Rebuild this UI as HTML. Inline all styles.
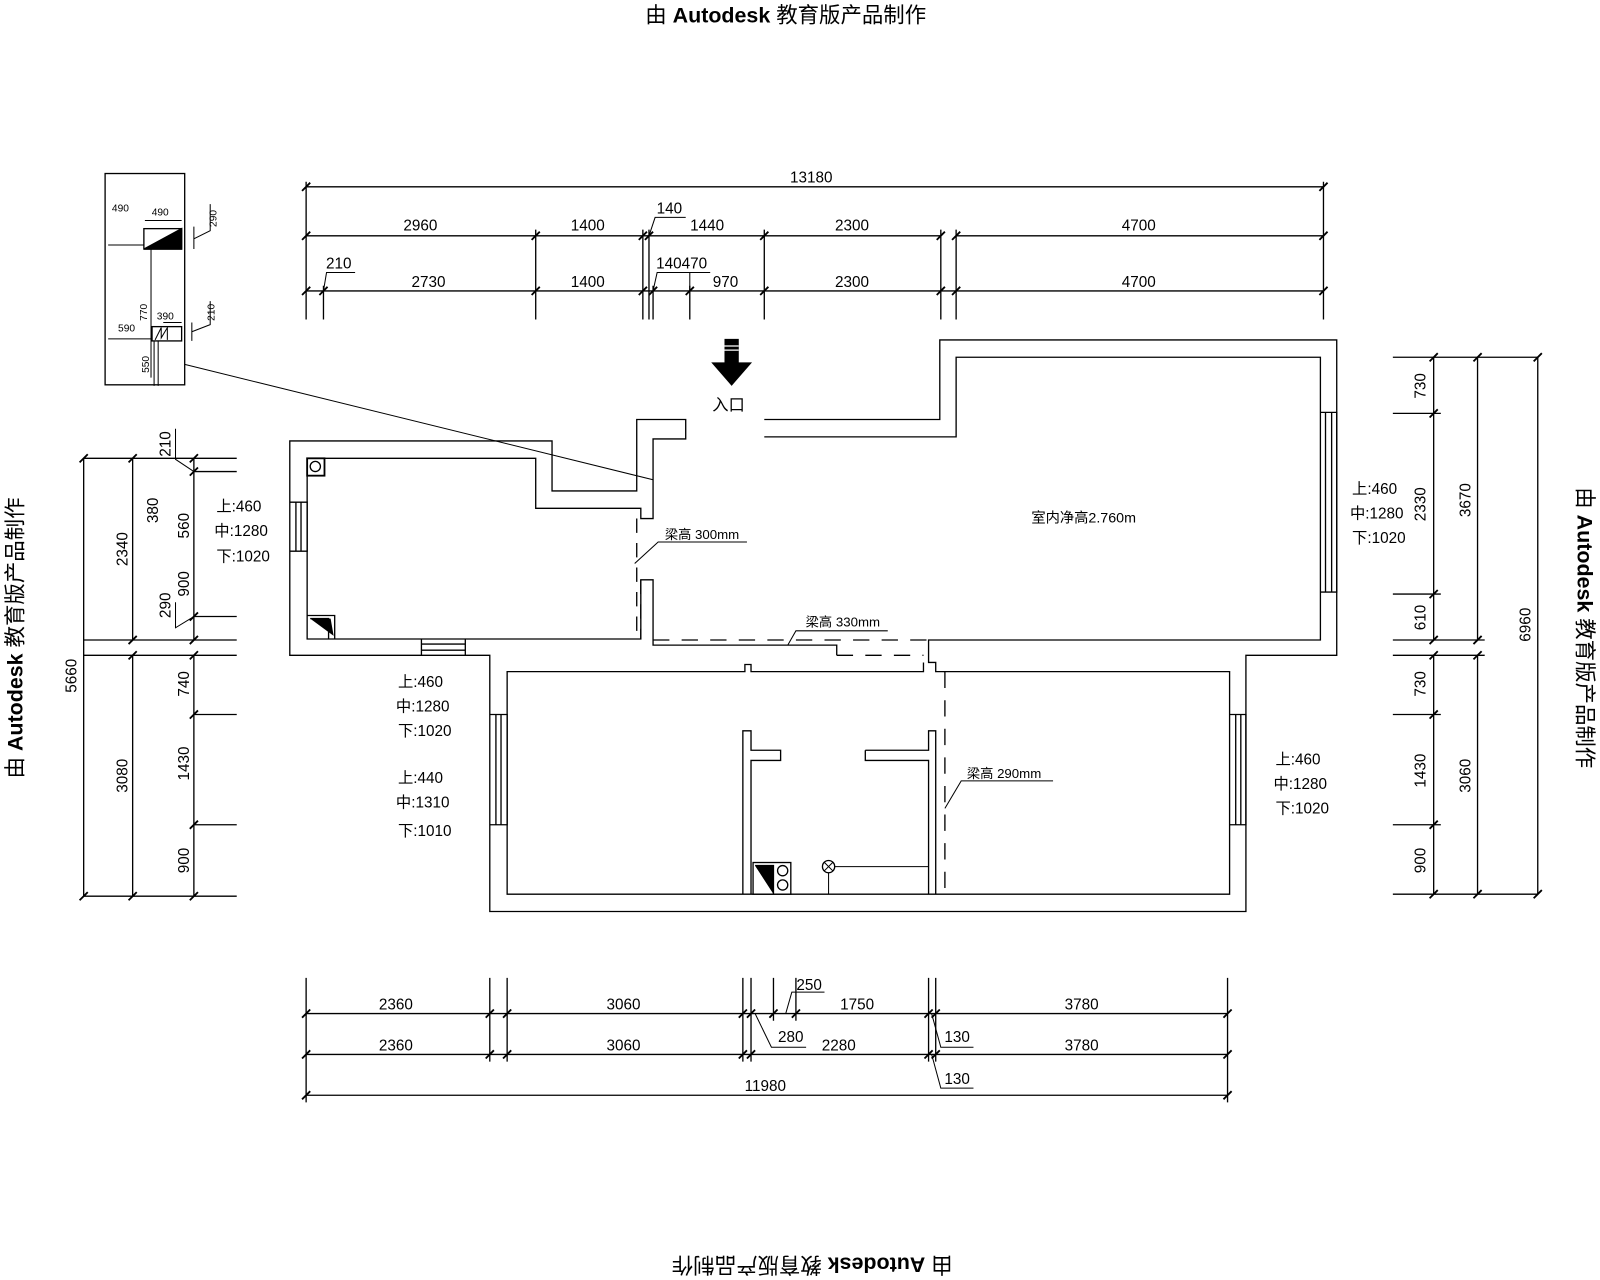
<!DOCTYPE html>
<html><head><meta charset="utf-8"><style>
html,body{margin:0;padding:0;background:#fff;}
svg{display:block}
text{font-family:"Liberation Sans","Noto Sans CJK SC",sans-serif;fill:#000}
.d{font-size:15px;font-family:"Liberation Sans Narrow","Liberation Sans","Noto Sans CJK SC",sans-serif}
</style></head><body>
<svg width="1600" height="1280" viewBox="0 0 1568 1254" preserveAspectRatio="none" xmlns="http://www.w3.org/2000/svg">
<g fill="none" stroke="#000" stroke-width="1.3">
<!-- watermark text handled below -->
<!-- TOP DIMENSIONS -->
<path d="M300,183H1297 M300,231H922 M937,231H1297 M300,285H1297"/>
<path d="M300,178V313 M1297,178V313 M525,225V313 M630,225V313 M636,225V313 M749,225V313 M922,225V313 M937,225V313 M317,280V313 M640,280V313 M676,280V313"/>
<path d="M296,187l8,-8 M1293,187l8,-8 M296,235l8,-8 M521,235l8,-8 M626,235l8,-8 M632,235l8,-8 M745,235l8,-8 M918,235l8,-8 M933,235l8,-8 M1293,235l8,-8 M296,289l8,-8 M313,289l8,-8 M521,289l8,-8 M626,289l8,-8 M636,289l8,-8 M672,289l8,-8 M745,289l8,-8 M918,289l8,-8 M933,289l8,-8 M1293,289l8,-8" stroke-width="1.8"/>
<path d="M636,231L642,213H672 M317,285L320,267H348 M640,285L644,267H696 M676,285V267" stroke-width="1"/>

<!-- INSET -->
<rect x="103" y="170" width="78" height="207"/>
<path d="M181,357L640,470" stroke-width="1"/>
<rect x="141" y="224" width="37" height="20"/>
<path d="M141,244L178,224V244Z" fill="#000"/>
<path d="M148,244V370 M106,240H141 M142,216H178 M190,222V244 M190,234L206,226V200" stroke-width="1"/>
<rect x="149" y="320" width="29" height="14"/>
<path d="M152,333l6,-12v10l6,-10v12 M106,332H149 M151,334V378 M155,334V378 M160,316H178 M188,316V334 M188,325L206,318V295" stroke-width="1"/>

<!-- WALLS -->
<path d="M749,411H921V333H1310V642H1221V893H480V642H284V432H541V481H624V411H672V430H640V508H628V498H525V449H301V626H628V568H640V632H820V642"/>
<path d="M749,428H937V350H1294V627H910V649H917V658H1205V876H497V658H730V651H736V658H905V649"/>
<path d="M624,508V626 M628,568V626" stroke-dasharray="14,10"/>
<path d="M640,627H910" stroke-dasharray="16,12"/>
<path d="M820,642H905" stroke-dasharray="16,12"/>
<path d="M926,658V876" stroke-dasharray="16,12"/>
<!-- windows -->
<path d="M284,492H301V540H284 M290,492V540 M295,492V540"/>
<path d="M413,626V642 M456,626V642 M413,631H456 M413,637H456"/>
<path d="M480,700H497V808H480 M486,700V808 M491,700V808"/>
<path d="M1205,700H1221V808H1205 M1211,700V808 M1216,700V808"/>
<path d="M1294,404H1310V580H1294 M1299,404V580 M1305,404V580"/>
<!-- fixtures left room -->
<rect x="301" y="449" width="17" height="17" stroke-width="1.8"/>
<circle cx="309" cy="457" r="5"/>
<path d="M301,603H328V626 M304,606H322V626" />
<path d="M304,606H324L327,623Z" fill="#000" stroke="none"/>
<!-- kitchen -->
<path d="M728,876V716H736V735H765V745H736V876 M848,735V745H910V876 M848,735H910V716H917V876"/>
<rect x="738" y="845" width="37" height="31"/>
<path d="M740,848H758V876 M742,850L756,852L758,874Z" fill="#000"/>
<circle cx="767" cy="853" r="5"/><circle cx="767" cy="867" r="5"/>
<circle cx="812" cy="849" r="6"/>
<path d="M808,845l8,8 M816,845l-8,8 M818,849H910 M812,855V876" stroke-width="1"/>
<!-- leaders -->
<path d="M622,552L645,531H732 M772,632L780,618H870 M926,792L942,765H1032" stroke-width="1"/>

<!-- RIGHT DIMENSIONS -->
<path d="M1365,350H1507 M1365,405H1412 M1365,582H1412 M1365,627H1455 M1365,642H1455 M1365,700H1412 M1365,808H1412 M1365,876H1507"/>
<path d="M1405,350V627 M1448,350V627 M1507,350V876 M1405,642V876 M1448,642V876"/>
<path d="M1401,354l8,-8 M1401,409l8,-8 M1401,586l8,-8 M1401,631l8,-8 M1444,354l8,-8 M1444,631l8,-8 M1503,354l8,-8 M1503,880l8,-8 M1401,646l8,-8 M1401,704l8,-8 M1401,812l8,-8 M1401,880l8,-8 M1444,646l8,-8 M1444,880l8,-8" stroke-width="1.8"/>

<!-- LEFT DIMENSIONS -->
<path d="M82,449H232 M82,627H232 M82,642H232 M82,878H232 M190,462H232 M190,604H232 M190,700H232 M190,808H232"/>
<path d="M82,449V878 M130,449V627 M130,642V878 M190,449V627 M190,642V878"/>
<path d="M78,453l8,-8 M78,882l8,-8 M126,453l8,-8 M126,631l8,-8 M126,646l8,-8 M126,882l8,-8 M186,453l8,-8 M186,466l8,-8 M186,608l8,-8 M186,631l8,-8 M186,646l8,-8 M186,704l8,-8 M186,812l8,-8 M186,882l8,-8" stroke-width="1.8"/>
<path d="M190,462L172,450V420 M190,604L172,615V590" stroke-width="1"/>

<!-- BOTTOM DIMENSIONS -->
<path d="M300,993H1203 M300,1033H1203 M300,1073H1203"/>
<path d="M300,958V1080 M480,958V1040 M497,958V1040 M728,958V1040 M736,958V1040 M910,958V1040 M917,958V1040 M1203,958V1080 M758,958V1000 M780,958V1000"/>
<path d="M296,997l8,-8 M476,997l8,-8 M493,997l8,-8 M724,997l8,-8 M732,997l8,-8 M754,997l8,-8 M776,997l8,-8 M906,997l8,-8 M913,997l8,-8 M1199,997l8,-8 M296,1037l8,-8 M476,1037l8,-8 M493,1037l8,-8 M724,1037l8,-8 M732,1037l8,-8 M906,1037l8,-8 M913,1037l8,-8 M1199,1037l8,-8 M296,1077l8,-8 M1199,1077l8,-8" stroke-width="1.8"/>
<path d="M770,993L776,972H808 M740,993L756,1026H790 M913,993L922,1026H954 M913,1033L922,1066H954" stroke-width="1"/>
</g>

<!-- arrow -->
<path d="M710,332H724V355H737L717,378L697,355H710Z" fill="#000"/>
<path d="M710,339H724 M710,343H724" stroke="#fff" stroke-width="1.2"/>
<text x="714" y="402" font-size="16" text-anchor="middle">入口</text>

<!-- dimension text -->
<g class="d" text-anchor="middle" font-size="15">
<text x="795" y="179">13180</text>
<text x="412" y="226">2960</text><text x="576" y="226">1400</text><text x="656" y="209">140</text><text x="693" y="226">1440</text><text x="835" y="226">2300</text><text x="1116" y="226">4700</text>
<text x="332" y="263">210</text><text x="420" y="281">2730</text><text x="576" y="281">1400</text><text x="668" y="263">140470</text><text x="711" y="281">970</text><text x="835" y="281">2300</text><text x="1116" y="281">4700</text>
<text x="388" y="989">2360</text><text x="611" y="989">3060</text><text x="793" y="970">250</text><text x="840" y="989">1750</text><text x="1060" y="989">3780</text>
<text x="388" y="1029">2360</text><text x="611" y="1029">3060</text><text x="775" y="1021">280</text><text x="822" y="1029">2280</text><text x="938" y="1021">130</text><text x="1060" y="1029">3780</text>
<text x="750" y="1069">11980</text><text x="938" y="1062">130</text>
<text x="1062" y="512" font-size="14">室内净高2.760m</text>
<text x="688" y="528" font-size="13">梁高 300mm</text>
<text x="826" y="614" font-size="13">梁高 330mm</text>
<text x="984" y="762" font-size="13">梁高 290mm</text>
</g>
<g class="d" font-size="15" text-anchor="middle">
<text transform="translate(1397,378) rotate(-90)">730</text>
<text transform="translate(1397,494) rotate(-90)">2330</text>
<text transform="translate(1397,605) rotate(-90)">610</text>
<text transform="translate(1441,490) rotate(-90)">3670</text>
<text transform="translate(1500,612) rotate(-90)">6960</text>
<text transform="translate(1397,670) rotate(-90)">730</text>
<text transform="translate(1397,755) rotate(-90)">1430</text>
<text transform="translate(1397,843) rotate(-90)">900</text>
<text transform="translate(1441,760) rotate(-90)">3060</text>
<text transform="translate(75,662) rotate(-90)">5660</text>
<text transform="translate(125,538) rotate(-90)">2340</text>
<text transform="translate(125,760) rotate(-90)">3080</text>
<text transform="translate(167,435) rotate(-90)">210</text>
<text transform="translate(155,500) rotate(-90)">380</text>
<text transform="translate(185,515) rotate(-90)">560</text>
<text transform="translate(185,572) rotate(-90)">900</text>
<text transform="translate(167,593) rotate(-90)">290</text>
<text transform="translate(185,670) rotate(-90)">740</text>
<text transform="translate(185,748) rotate(-90)">1430</text>
<text transform="translate(185,843) rotate(-90)">900</text>
<text transform="translate(118,207) rotate(0)" font-size="10">490</text>
<text transform="translate(157,211)" font-size="10">490</text>
<text transform="translate(212,214) rotate(-90)" font-size="10">290</text>
<text transform="translate(124,325)" font-size="10">590</text>
<text transform="translate(162,313)" font-size="10">390</text>
<text transform="translate(144,306) rotate(-90)" font-size="10">770</text>
<text transform="translate(210,306) rotate(-90)" font-size="10">210</text>
<text transform="translate(146,357) rotate(-90)" font-size="10">550</text>
</g>
<g class="d" font-size="16">
<text x="212" y="501">上:460</text><text x="210" y="525">中:1280</text><text x="212" y="550">下:1020</text>
<text x="1325" y="484">上:460</text><text x="1323" y="508">中:1280</text><text x="1325" y="532">下:1020</text>
<text x="390" y="673">上:460</text><text x="388" y="697">中:1280</text><text x="390" y="721">下:1020</text>
<text x="390" y="767">上:440</text><text x="388" y="791">中:1310</text><text x="390" y="819">下:1010</text>
<text x="1250" y="749">上:460</text><text x="1248" y="773">中:1280</text><text x="1250" y="797">下:1020</text>
</g>

<!-- watermarks -->
<g font-size="21" text-anchor="middle">
<text x="770" y="22">由 <tspan font-weight="bold">Autodesk</tspan> 教育版产品制作</text>
<text transform="translate(796,1232) rotate(180)">由 <tspan font-weight="bold">Autodesk</tspan> 教育版产品制作</text>
<text transform="translate(22,625) rotate(-90)">由 <tspan font-weight="bold">Autodesk</tspan> 教育版产品制作</text>
<text transform="translate(1546,615) rotate(90)">由 <tspan font-weight="bold">Autodesk</tspan> 教育版产品制作</text>
</g>
</svg>
</body></html>
